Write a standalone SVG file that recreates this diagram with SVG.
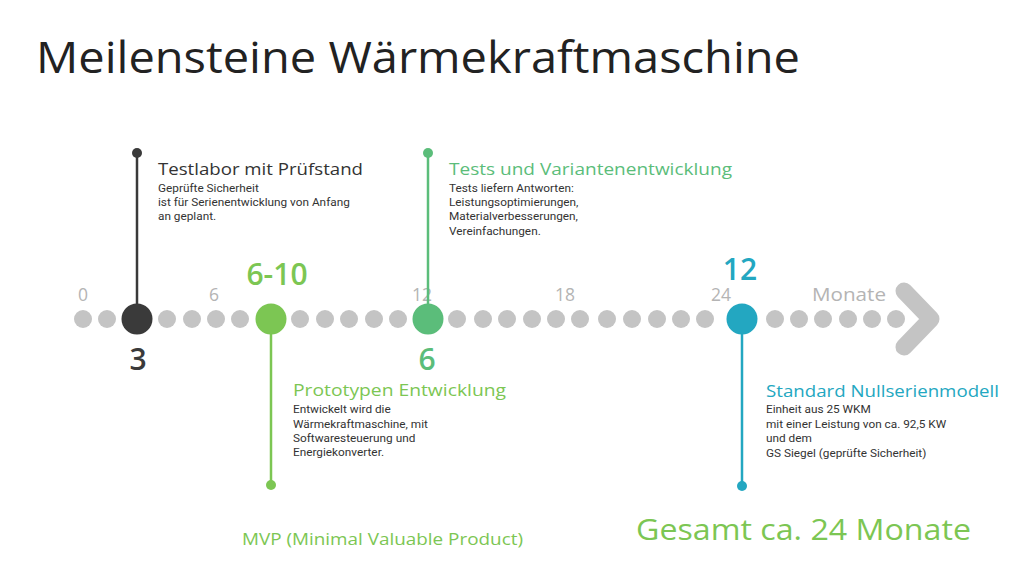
<svg xmlns="http://www.w3.org/2000/svg" width="1024" height="576" viewBox="0 0 1024 576">
<style>
.h{font-family:"Open Sans","Noto Sans",sans-serif;}
.b{font-family:Roboto,"Liberation Sans",sans-serif;font-size:11.8px;fill:#333333;}
.ax{font-family:"Open Sans","Noto Sans",sans-serif;font-size:17.5px;fill:#b4b4b4;text-anchor:middle;}
.sd{fill:#c4c4c4;}
.num{font-family:"Open Sans","Noto Sans",sans-serif;font-weight:600;font-size:30px;text-anchor:middle;}
.ttl{font-size:17px;}
</style>
<rect width="1024" height="576" fill="#ffffff"/>
<text class="h" x="36" y="73" font-size="44" fill="#222222" textLength="764" lengthAdjust="spacingAndGlyphs">Meilensteine Wärmekraftmaschine</text>

<g id="axis">
<g class="sd">
<circle cx="83" cy="319" r="9"/><circle cx="107" cy="319" r="9"/>
<circle cx="167" cy="319" r="9"/><circle cx="192" cy="319" r="9"/><circle cx="216" cy="319" r="9"/><circle cx="240" cy="319" r="9"/>
<circle cx="300" cy="319" r="9"/><circle cx="325" cy="319" r="9"/><circle cx="349" cy="319" r="9"/><circle cx="374" cy="319" r="9"/><circle cx="398" cy="319" r="9"/>
<circle cx="457" cy="319" r="9"/><circle cx="483" cy="319" r="9"/><circle cx="507" cy="319" r="9"/><circle cx="532" cy="319" r="9"/><circle cx="556" cy="319" r="9"/><circle cx="580" cy="319" r="9"/><circle cx="607" cy="319" r="9"/><circle cx="632" cy="319" r="9"/><circle cx="657" cy="319" r="9"/><circle cx="681" cy="319" r="9"/><circle cx="705" cy="319" r="9"/>
<circle cx="775" cy="319" r="9"/><circle cx="799" cy="319" r="9"/><circle cx="823" cy="319" r="9"/><circle cx="848" cy="319" r="9"/><circle cx="872" cy="319" r="9"/><circle cx="896" cy="319" r="9"/>
</g>
<polyline points="904,291 931,319 904,347" fill="none" stroke="#c4c4c4" stroke-width="17" stroke-linecap="round" stroke-linejoin="round"/>
<text class="ax" x="83" y="301">0</text>
<text class="ax" x="214" y="301">6</text>
<text class="ax" x="422" y="301">12</text>
<text class="ax" x="565" y="301">18</text>
<text class="ax" x="721" y="301">24</text>
<text class="ax" x="849" y="301" font-size="20" textLength="74" lengthAdjust="spacingAndGlyphs">Monate</text>
</g>

<g id="connectors" fill="none" stroke-width="2.5">
<line x1="137" y1="153" x2="137" y2="319" stroke="#3a3a3a"/>
<line x1="271" y1="319" x2="271" y2="485" stroke="#7cc653"/>
<line x1="428" y1="153" x2="428" y2="319" stroke="#5bbd7a"/>
<line x1="742" y1="319" x2="742" y2="486" stroke="#23a7c1"/>
</g>

<g id="m1">
<circle cx="137" cy="153" r="5" fill="#3a3a3a"/>
<circle cx="137" cy="319" r="15.5" fill="#3a3a3a"/>
<text class="num" x="138" y="370" fill="#3a3a3a">3</text>
<text class="h ttl" x="158" y="175" fill="#333333" textLength="205" lengthAdjust="spacingAndGlyphs">Testlabor mit Prüfstand</text>
<text class="b" x="158" y="191.5">Geprüfte Sicherheit</text>
<text class="b" x="158" y="205.8">ist für Serienentwicklung von Anfang</text>
<text class="b" x="158" y="220">an geplant.</text>
</g>

<g id="m2">
<circle cx="271" cy="319" r="15.5" fill="#7cc653"/>
<circle cx="271" cy="485" r="5" fill="#7cc653"/>
<text class="num" x="277" y="285" fill="#7cc653">6-10</text>
<text class="h ttl" x="293" y="396" fill="#7cc653" textLength="213" lengthAdjust="spacingAndGlyphs">Prototypen Entwicklung</text>
<text class="b" x="293" y="413.3">Entwickelt wird die</text>
<text class="b" x="293" y="427.5">Wärmekraftmaschine, mit</text>
<text class="b" x="293" y="441.7">Softwaresteuerung und</text>
<text class="b" x="293" y="455.8">Energiekonverter.</text>
</g>

<g id="m3">
<circle cx="428" cy="153" r="5" fill="#5bbd7a"/>
<circle cx="428" cy="319" r="15.5" fill="#5bbd7a"/>
<text class="num" x="427" y="370" fill="#5bbd7a">6</text>
<text class="h ttl" x="449" y="175" fill="#5bbd7a" textLength="283" lengthAdjust="spacingAndGlyphs">Tests und Variantenentwicklung</text>
<text class="b" x="449" y="191.7">Tests liefern Antworten:</text>
<text class="b" x="449" y="206">Leistungsoptimierungen,</text>
<text class="b" x="449" y="220.3">Materialverbesserungen,</text>
<text class="b" x="449" y="234.5">Vereinfachungen.</text>
</g>

<g id="m4">
<circle cx="742" cy="319" r="15.5" fill="#23a7c1"/>
<circle cx="742" cy="486" r="5" fill="#23a7c1"/>
<text class="num" x="740" y="279.5" fill="#23a7c1" font-size="29">12</text>
<text class="h ttl" x="766" y="397" fill="#23a7c1" textLength="233" lengthAdjust="spacingAndGlyphs">Standard Nullserienmodell</text>
<text class="b" x="766" y="413.3">Einheit aus 25 WKM</text>
<text class="b" x="766" y="427.7">mit einer Leistung von ca. 92,5 KW</text>
<text class="b" x="766" y="442">und dem</text>
<text class="b" x="766" y="456.5">GS Siegel (geprüfte Sicherheit)</text>
</g>

<g id="mvp">
<text class="h" x="242" y="545" font-size="17" fill="#7cc653" textLength="281" lengthAdjust="spacingAndGlyphs">MVP (Minimal Valuable Product)</text>
</g>
<g id="total">
<text class="h" x="636" y="540" font-size="30" fill="#7cc653" textLength="335" lengthAdjust="spacingAndGlyphs">Gesamt ca. 24 Monate</text>
</g>
</svg>
